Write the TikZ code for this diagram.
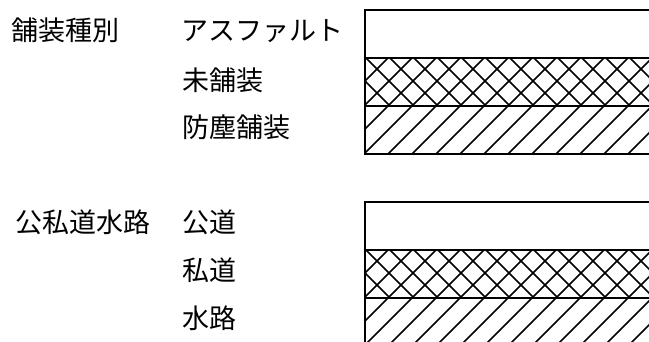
\documentclass[tikz,border=0pt]{standalone}
\usepackage{fontspec}
\newfontfamily\jp{Noto Sans CJK JP}
\tikzset{
  lbl/.style={anchor=base west, inner sep=0pt, font=\jp\fontsize{27}{30}\selectfont},
  border/.style={draw=black, line width=2pt},
  hatchline/.style={draw=black, line width=1.5pt},
}
\begin{document}
\begin{tikzpicture}[x=1pt,y=-1pt]
\useasboundingbox (0,0) rectangle (649,341);
\clip (0,0) rectangle (649,341);
% texts
\node[lbl] (t1) at (11.5,40.5) {舗装種別};
\node[lbl] (a1) at (181,40.5) {アスファルト};
\node[lbl] (a2) at (182,90.5) {未舗装};
\node[lbl] (a3) at (182,137.5) {防塵舗装};
\node[lbl] (t2) at (15.5,232.5) {公私道水路};
\node[lbl] (b1) at (182,232.5) {公道};
\node[lbl] (b2) at (182,280.5) {私道};
\node[lbl] (b3) at (182,328.5) {水路};
% hatches
\foreach \yo in {0,192}{
  % cross hatch band
  \begin{scope}
    \clip (365,57.5+\yo) rectangle (670,105.5+\yo);
    \foreach \i in {-20,...,30}{
      \draw[hatchline] ({422+24*\i-40},40) -- ({422+24*\i-360},360);
      \draw[hatchline] ({308+24*\i+40},40) -- ({308+24*\i+360},360);
    }
  \end{scope}
  % single hatch band
  \begin{scope}
    \clip (365,105.5+\yo) rectangle (670,153.5+\yo);
    \foreach \i in {-20,...,30}{
      \draw[hatchline] ({422+24*\i-40},40) -- ({422+24*\i-360},360);
    }
  \end{scope}
  % borders
  \draw[border] (670,10+\yo) -- (365,10+\yo) -- (365,153.5+\yo) -- (670,153.5+\yo);
  \draw[border] (365,57.5+\yo) -- (670,57.5+\yo);
  \draw[border] (365,105.5+\yo) -- (670,105.5+\yo);
}
\end{tikzpicture}
\end{document}
